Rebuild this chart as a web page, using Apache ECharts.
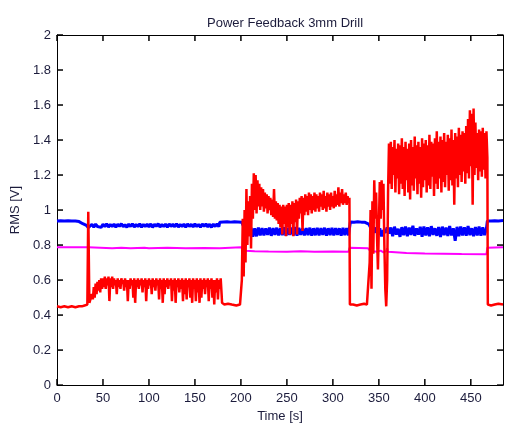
<!DOCTYPE html>
<html>
<head>
<meta charset="utf-8">
<script src="https://cdn.jsdelivr.net/npm/echarts@6/dist/echarts.min.js"></script>
<style>
html,body{margin:0;padding:0;background:#fff;}
#c{width:505px;height:428px;}
</style>
</head>
<body>
<div id="c"></div>
<script>
// ---- tick labels / axis ranges ----
const xTicks = [0, 50, 100, 150, 200, 250, 300, 350, 400, 450];
const yTicks = [0, 0.2, 0.4, 0.6, 0.8, 1, 1.2, 1.4, 1.6, 1.8, 2];
const xMax = 485;
const yMax = 2;

// ---- red series ----
const redIdle1 = [[0,0.45],[4,0.445],[8,0.45],[12,0.445],[16,0.45],[20,0.445],[24,0.45],[27,0.45],[30,0.455],[33,0.46],[33.6,0.46],[34,0.99],[34.8,0.99],[35.2,0.47],[36,0.47]];
const redDrill1Start = 37;
const redDrill1 = [
0.47,0.52,0.49,0.56,0.50,0.58,0.52,0.59,0.54,0.60,
0.53,0.61,0.55,0.61,0.56,0.62,0.55,0.61,0.57,0.62,
0.48,0.61,0.56,0.62,0.55,0.61,0.57,0.60,0.52,0.61,
0.56,0.60,0.55,0.61,0.58,0.60,0.54,0.61,0.56,0.60,
0.48,0.60,0.55,0.61,0.57,0.60,0.50,0.61,0.47,0.60,
0.56,0.61,0.55,0.60,0.57,0.61,0.53,0.60,0.56,0.61,
0.48,0.60,0.55,0.61,0.57,0.60,0.52,0.61,0.56,0.60,
0.54,0.61,0.57,0.60,0.49,0.61,0.55,0.60,0.47,0.61,
0.52,0.60,0.56,0.61,0.55,0.60,0.57,0.61,0.48,0.60,
0.54,0.61,0.47,0.60,0.56,0.61,0.53,0.60,0.55,0.61,
0.48,0.60,0.52,0.61,0.49,0.60,0.56,0.61,0.50,0.60,
0.47,0.61,0.55,0.60,0.48,0.61,0.53,0.60,0.47,0.61,
0.50,0.60,0.55,0.61,0.52,0.60,0.56,0.61,0.48,0.60,
0.55,0.61,0.50,0.60,0.46,0.60,0.53,0.61,0.49,0.60,
0.55,0.61,0.52];
const redIdle2 = [[179.5,0.47],[182,0.46],[186,0.465],[190,0.46],[195,0.455],[199,0.46],[200.5,0.46]];
const redDrill2Start = 201;
const redDrill2 = [
0.60,0.95,0.62,1.00,0.70,1.12,0.80,1.05,0.85,1.08,
0.78,1.15,0.95,1.21,1.00,1.20,0.98,1.17,1.02,1.15,
1.00,1.13,1.02,1.12,0.99,1.10,1.01,1.09,0.98,1.08,
1.00,1.07,0.97,1.06,0.96,1.12,0.95,1.05,0.94,1.04,
0.92,1.03,0.90,1.02,0.86,1.03,0.92,1.02,0.85,1.03,
0.90,1.04,0.86,1.03,0.92,1.05,0.85,1.04,0.93,1.06,
0.86,1.05,0.95,1.07,0.98,1.08,0.88,1.07,0.97,1.09,
0.99,1.08,0.97,1.10,1.00,1.09,0.98,1.08,1.00,1.10,
0.99,1.09,1.01,1.08,0.99,1.10,1.02,1.09,1.00,1.11,
1.01,1.08,0.99,1.10,1.02,1.09,1.00,1.10,1.02,1.08,
1.01,1.11,1.02,1.09,1.03,1.13,1.02,1.10,1.04,1.12,
1.03,1.09,1.04,1.10,1.03,1.08,1.04,1.07];
const redIdle3 = [[318.5,0.46],[322,0.46],[326,0.455],[330,0.46],[334,0.465],[337,0.46]];
const redSpikesStart = 338;
const redSpikes = [0.47,0.46,0.70,1.00,0.55,1.05,0.75,1.17,0.95,1.10,0.85,0.66,0.90,1.16,0.95,1.17,1.00,1.15,0.80,0.55,0.45,0.60,1.10];
const redDrill3Start = 361;
const redDrill3 = [
1.38,1.15,1.39,1.12,1.36,1.20,1.40,1.10,1.35,1.18,
1.38,1.09,1.37,1.15,1.41,1.12,1.36,1.08,1.39,1.17,
1.35,1.10,1.38,1.06,1.40,1.14,1.36,1.11,1.42,1.18,
1.37,1.09,1.39,1.15,1.36,1.07,1.41,1.13,1.38,1.17,
1.40,1.10,1.37,1.14,1.43,1.12,1.39,1.19,1.38,1.08,
1.41,1.15,1.45,1.12,1.39,1.18,1.42,1.10,1.40,1.16,
1.44,1.13,1.39,1.20,1.43,1.11,1.41,1.17,1.46,1.14,
1.40,1.03,1.44,1.18,1.42,1.13,1.47,1.20,1.43,1.16,
1.45,1.22,1.44,1.15,1.48,1.21,1.52,1.18,1.57,1.25,
1.55,1.03,1.58,1.20,1.50,1.24,1.44,1.17,1.46,1.22,
1.45,1.19,1.47,1.23,1.44,1.18,1.45,1.30];
const redIdle4 = [[468.5,0.46],[472,0.455],[476,0.46],[480,0.465],[485,0.46]];

// ---- blue series ----
const blueIdle1 = [[0,0.938],[2,0.931],[4,0.939],[6,0.932],[8,0.938],[10,0.931],[12,0.939],[14,0.932],[16,0.938],[18,0.931],[20,0.937],[22,0.931],[24,0.934],[26,0.925],[28,0.922],[30,0.914],[32,0.912],[34,0.9],[35,0.905]];
const blueSeg1Start = 36;
const blueSeg1 = [
0.905,0.918,0.902,0.92,0.906,0.917,0.901,0.919,0.905,0.921,
0.903,0.918,0.906,0.92,0.902,0.919,0.907,0.922,0.904,0.917,
0.901,0.92,0.906,0.921,0.903,0.918,0.905,0.922,0.902,0.918,
0.906,0.92,0.904,0.921,0.901,0.919,0.907,0.922,0.903,0.918,
0.905,0.92,0.902,0.921,0.906,0.919,0.904,0.922,0.903,0.918,
0.905,0.92,0.901,0.921,0.906,0.919,0.903,0.922,0.905,0.918,
0.902,0.92,0.907,0.921,0.904,0.919,0.901,0.92,0.906,0.921,
0.905];
const blueSeg2Start = 177;
const blueSeg2 = [0.93,0.94,0.932,0.941,0.933,0.94,0.931,0.939,0.933,0.941,0.932,0.94,0.93];
const blueSeg3Start = 203;
const blueSeg3 = [
0.905,0.862,0.902,0.852,0.898,0.848,0.895,0.85,0.9,0.855,
0.897,0.856,0.895,0.858,0.9,0.853,0.897,0.858,0.899,0.855,
0.896,0.857,0.902,0.854,0.898,0.858,0.9,0.855,0.903,0.853,
0.898,0.858,0.895,0.856,0.897,0.857,0.899,0.854,0.896,0.856,
0.898,0.855,0.897,0.858,0.899,0.854,0.896,0.857,0.898,0.855,
0.897,0.858,0.896,0.854,0.898,0.857,0.896,0.856];
const blueSeg4Start = 319;
const blueSeg4 = [0.932,0.942,0.93,0.94,0.933,0.942,0.931,0.941,0.93,0.94];
const blueSeg5Start = 339;
const blueSeg5 = [0.92,0.9,0.915,0.87,0.9,0.86,0.895,0.85,0.885,0.87,0.9];
const blueSeg6Start = 361;
const blueSeg6 = [
0.865,0.9,0.85,0.905,0.86,0.893,0.847,0.902,0.856,0.906,
0.85,0.9,0.858,0.91,0.853,0.895,0.86,0.904,0.848,0.906,
0.855,0.902,0.851,0.908,0.858,0.896,0.853,0.903,0.846,0.905,
0.857,0.9,0.852,0.909,0.855,0.896,0.825,0.904,0.85,0.906,
0.855,0.902,0.853,0.908,0.857,0.896,0.851,0.903,0.855,0.906,
0.853,0.901,0.857,0.896];
const blueIdle2 = [[468,0.938],[470,0.946],[472,0.938],[474,0.946],[476,0.939],[478,0.946],[480,0.938],[482,0.945],[485,0.94]];

// ---- magenta series ----
const magenta = [[0,0.788],[34,0.788],[35,0.78],[36,0.785],[60,0.782],[70,0.785],[80,0.782],[95,0.785],[100,0.782],[120,0.784],[140,0.782],[160,0.783],[177,0.782],[178,0.788],[200,0.788],[202,0.775],[205,0.768],[215,0.765],[230,0.763],[250,0.762],[265,0.764],[280,0.762],[300,0.763],[317,0.762],[318,0.784],[338,0.782],[340,0.77],[344,0.765],[346,0.772],[348,0.762],[352,0.768],[355,0.758],[358,0.765],[359,0.782],[360,0.762],[362,0.755],[380,0.754],[400,0.752],[420,0.751],[440,0.749],[467,0.748],[468,0.785],[485,0.787]];

function seq(start, step, vals) { return vals.map((v, i) => [start + i * step, v]); }

const redData = [].concat(
  redIdle1, seq(redDrill1Start, 1, redDrill1), redIdle2,
  seq(redDrill2Start, 1, redDrill2), redIdle3,
  seq(redSpikesStart, 1, redSpikes), seq(redDrill3Start, 1, redDrill3), redIdle4);
const blueData = [].concat(
  blueIdle1, seq(blueSeg1Start, 2, blueSeg1), seq(blueSeg2Start, 2, blueSeg2),
  seq(blueSeg3Start, 2, blueSeg3), seq(blueSeg4Start, 2, blueSeg4),
  seq(blueSeg5Start, 2, blueSeg5), seq(blueSeg6Start, 2, blueSeg6), blueIdle2);

const txt = '#1c1c3c';
const font = 'Liberation Sans, Arial, sans-serif';
const TICK = 6;
const lineOn = () => ({ show: true, onZero: false, lineStyle: { color: '#000', width: 1 } });
const xBase = { type: 'value', min: 0, max: xMax, interval: 50, splitLine: { show: false } };
const yBase = { type: 'value', min: 0, max: yMax, interval: 0.2, splitLine: { show: false } };

const chart = echarts.init(document.getElementById('c'), null, { renderer: 'canvas' });
chart.setOption({
  animation: false,
  backgroundColor: '#fff',
  title: {
    text: 'Power Feedback 3mm Drill', left: 280, top: 12, textAlign: 'center',
    textStyle: { fontSize: 13, fontWeight: 'normal', color: txt, fontFamily: font }
  },
  grid: { left: 57, right: 2, top: 35, bottom: 38, containLabel: false },
  xAxis: [
    Object.assign({}, xBase, {
      position: 'bottom', axisLine: lineOn(), axisTick: { show: false },
      axisLabel: { color: txt, fontSize: 13, fontFamily: font, margin: 7, showMaxLabel: false,
        formatter: v => xTicks.includes(v) ? String(v) : '' },
      name: 'Time [s]', nameLocation: 'middle', nameGap: 23,
      nameTextStyle: { color: txt, fontSize: 13, fontFamily: font }
    }),
    Object.assign({}, xBase, { position: 'top', axisLine: lineOn(), axisTick: { show: false }, axisLabel: { show: false } })
  ],
  yAxis: [
    Object.assign({}, yBase, {
      position: 'left', axisLine: lineOn(), axisTick: { show: false },
      axisLabel: { color: txt, fontSize: 13, fontFamily: font, margin: 6,
        formatter: v => { const t = yTicks.find(k => Math.abs(k - v) < 1e-6); return t === undefined ? '' : String(t); } },
      name: 'RMS [V]', nameLocation: 'middle', nameGap: 32,
      nameTextStyle: { color: txt, fontSize: 13, fontFamily: font }
    }),
    Object.assign({}, yBase, { position: 'right', axisLine: lineOn(), axisTick: { show: false }, axisLabel: { show: false } })
  ],
  series: [
    { name: 'blue', type: 'line', data: blueData, showSymbol: false, symbol: 'none',
      lineStyle: { color: '#0000ff', width: 3 }, z: 2 },
    { name: 'magenta', type: 'line', data: magenta, showSymbol: false, symbol: 'none',
      lineStyle: { color: '#ff00ff', width: 2 }, z: 3 },
    { name: 'red', type: 'line', data: redData, showSymbol: false, symbol: 'none',
      lineStyle: { color: '#ff0000', width: 2.5 }, z: 4 },
    // inward tick marks on bottom and top edges, placed through the x scale
    { name: 'xTickMarks', type: 'custom', coordinateSystem: 'cartesian2d', clip: false, silent: true, z: 20,
      encode: { x: 0, y: 1 },
      data: xTicks.map(v => [v, 1]),
      renderItem: (params, api) => {
        const b = api.coord([api.value(0), 0]);
        const t = api.coord([api.value(0), yMax]);
        return { type: 'group', children: [
          { type: 'rect', shape: { x: b[0] - 0.75, y: b[1] - TICK, width: 1.5, height: TICK }, style: { fill: '#000' } },
          { type: 'rect', shape: { x: t[0] - 0.75, y: t[1], width: 1.5, height: TICK }, style: { fill: '#000' } }
        ] };
      } },
    // inward tick marks on left and right edges, placed through the y scale
    { name: 'yTickMarks', type: 'custom', coordinateSystem: 'cartesian2d', clip: false, silent: true, z: 20,
      encode: { x: 0, y: 1 },
      data: yTicks.map(v => [1, v]),
      renderItem: (params, api) => {
        const l = api.coord([0, api.value(1)]);
        const r = api.coord([xMax, api.value(1)]);
        return { type: 'group', children: [
          { type: 'rect', shape: { x: l[0], y: l[1] - 0.75, width: TICK, height: 1.5 }, style: { fill: '#000' } },
          { type: 'rect', shape: { x: r[0] - TICK, y: r[1] - 0.75, width: TICK, height: 1.5 }, style: { fill: '#000' } }
        ] };
      } }
  ]
});
</script>
</body>
</html>
